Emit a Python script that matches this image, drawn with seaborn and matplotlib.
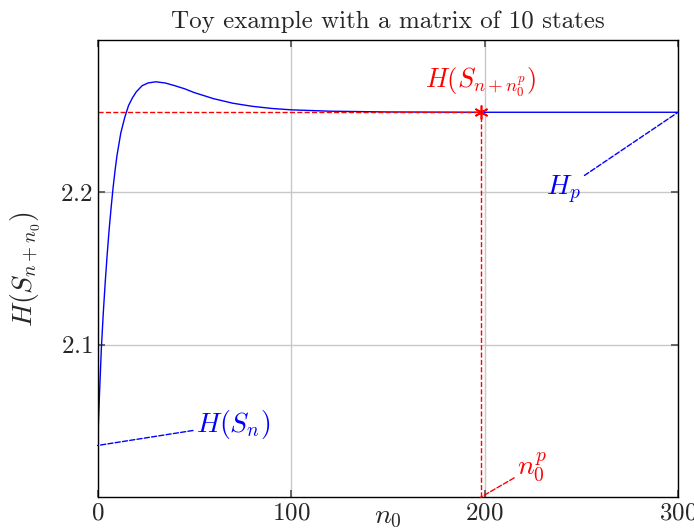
"""Entropia H(S_{n+n0}) en funcion de n0 para una matriz de 10 estados."""

import matplotlib.pyplot as plt
import pandas as pd
import seaborn as sns

# Valores
n0_values = [0, 1, 2, 3, 4, 5, 6, 7, 8, 9, 10, 12, 14, 16, 18, 20, 23, 26, 30,
             35, 40, 45, 50, 60, 70, 80, 90, 100, 120, 150, 200, 250, 300]
entropy_values = [2.034, 2.068, 2.099, 2.122, 2.142, 2.160, 2.176, 2.190, 2.203,
                  2.214, 2.224, 2.239, 2.249, 2.257, 2.262, 2.266, 2.270, 2.2718,
                  2.2726, 2.2718, 2.270, 2.268, 2.2655, 2.2615, 2.2585, 2.2565,
                  2.2551, 2.2542, 2.2533, 2.2528, 2.2526, 2.2526, 2.2526]
h_sn = 2.034          # H(S_n), valor inicial
h_p = 2.2526          # valor limite H_p
n0_p = 198            # n0^p
y_ticks = [2.1, 2.2]
x_ticks = [0, 100, 200, 300]

sns.set_theme(style="whitegrid")
plt.rcParams["font.family"] = ["cmr10", "DejaVu Serif"]
plt.rcParams["mathtext.fontset"] = "cm"
plt.rcParams["axes.formatter.use_mathtext"] = True

df = pd.DataFrame({"n0": n0_values, "H": entropy_values})

fig, ax = plt.subplots(figsize=(6.94, 5.30), dpi=100)
fig.subplots_adjust(left=0.1406, right=0.977, top=0.9245, bottom=0.0617)

sns.lineplot(data=df, x="n0", y="H", ax=ax, color="blue", linewidth=1.0)

ax.plot([0, n0_p], [h_p, h_p], color="red", linestyle="--", linewidth=1.0)
ax.plot([n0_p, n0_p], [2.0, h_p], color="red", linestyle="--", linewidth=1.0)
ax.plot([n0_p], [h_p], color="red", marker=(6, 2, 0), markersize=10, markeredgewidth=1.2)

dash = dict(arrowstyle="-", linestyle="--", linewidth=1.0, shrinkA=0, shrinkB=0)
ax.annotate(r"$H(S_n)$", xy=(0, h_sn), xytext=(51, 2.048), color="blue",
            fontsize=20, va="center", ha="left",
            arrowprops=dict(color="blue", **dash))
ax.annotate(r"$H_p$", xy=(300, h_p), xytext=(232, 2.202), color="blue",
            fontsize=20, va="center", ha="left",
            arrowprops=dict(color="blue", **dash))
ax.annotate(r"$H(S_{n+n_0^p})$", xy=(n0_p, h_p), xytext=(n0_p, 2.273), color="red",
            fontsize=19, va="center", ha="center")
ax.annotate(r"$n_0^p$", xy=(n0_p, 2.0), xytext=(217, 2.0197), color="red",
            fontsize=20, va="center", ha="left",
            arrowprops=dict(color="red", **dash))

ax.set_xlim(0, 300)
ax.set_ylim(2.0, 2.3)
ax.set_xticks(x_ticks)
ax.set_yticks(y_ticks)
ax.tick_params(labelsize=18, direction="in", length=5, color="#555555",
               bottom=True, left=True, top=True, right=True)
ax.grid(True, color="#c8c8c8", linewidth=1.0)
for spine in ax.spines.values():
    spine.set_color("black")
    spine.set_linewidth(1.0)

ax.set_title("Toy example with a matrix of 10 states", fontsize=18, pad=9)
ax.set_xlabel(r"$n_0$", fontsize=20)
ax.xaxis.set_label_coords(0.5, -0.015)
ax.set_ylabel(r"$H(S_{n+n_0})$", fontsize=20)
ax.yaxis.set_label_coords(-0.095, 0.5)

plt.savefig("out.png", dpi=100)
plt.close(fig)
